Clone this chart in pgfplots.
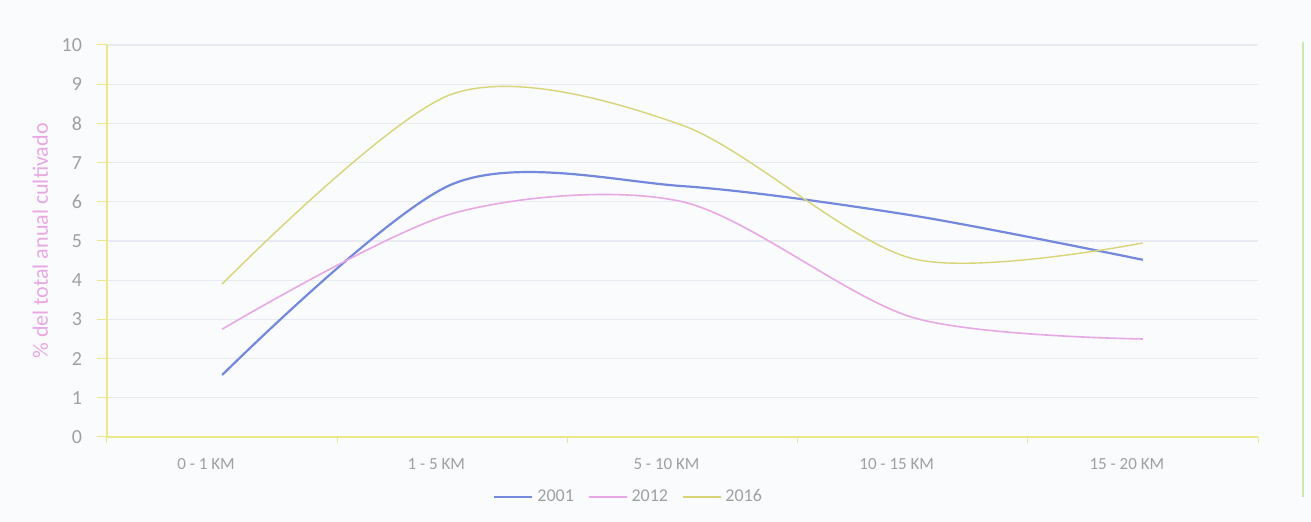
\documentclass[border=0pt]{standalone}
\usepackage{pgfplots}
\pgfplotsset{compat=1.18}
\usepackage{fontspec}
\setmainfont{Carlito}

\definecolor{c2001}{HTML}{7488DC}
\definecolor{c2012}{HTML}{E8A8E4}
\definecolor{c2016}{HTML}{D8D478}
\definecolor{axisyel}{HTML}{ECE88A}
\definecolor{gridc}{HTML}{E8ECF2}
\definecolor{txt}{HTML}{A0A0A0}
\definecolor{bg}{HTML}{F9FBFD}
\definecolor{frameg}{HTML}{CDE8AE}

\begin{document}
\begin{tikzpicture}[font=\fontsize{10}{12}\selectfont]
  % page = 1311x522 px at 0.5pt per px, axis origin at (107,437) px
  \path[use as bounding box, fill=bg] (-53.5pt,-42.5pt) rectangle (602pt,218.5pt);
  \draw[frameg, line width=0.6pt] (598pt,-30pt) -- (598pt,197.5pt);
  \begin{axis}[
      at={(0,0)}, anchor=south west,
      scale only axis,
      width=575.5pt, height=196pt,
      xmin=-0.5, xmax=4.5,
      ymin=0, ymax=10,
      axis lines*=left,
      axis line style={axisyel, line width=0.6pt},
      tick align=outside,
      tick style={axisyel, line width=0.5pt},
      major tick length=5pt,
      minor tick length=3pt,
      xtick={0,...,4},
      xticklabels={0 - 1 KM, 1 - 5 KM, 5 - 10 KM, 10 - 15 KM, 15 - 20 KM},
      major x tick style={draw=none},
      minor xtick={-0.5,0.5,1.5,2.5,3.5,4.5},
      ytick={0,...,10},
      ymajorgrids,
      grid style={gridc, line width=0.6pt},
      ticklabel style={txt},
      yticklabel style={xshift=-4pt},
      xticklabel style={yshift=-2pt, xshift=-8pt, font=\fontsize{8.5}{10}\selectfont},
      /pgf/number format/assume math mode=true,
      ylabel={\% del total anual cultivado},
      ylabel style={c2012, font=\fontsize{11}{13}\selectfont,
        at={(axis description cs:-0.058,0.5)}, anchor=center},
      legend style={at={(axis description cs:0.454,-0.153)}, anchor=center,
        draw=none, fill=none, text=txt, legend columns=-1,
        font=\fontsize{9}{11}\selectfont,
        /tikz/every even column/.append style={column sep=5pt}},
      legend image code/.code={\draw[#1] (0pt,0pt) -- (19pt,0pt);},
    ]
    \addplot[c2001, line width=1.1pt, smooth, tension=0.5] coordinates {
      (0,1.58) (1,6.45) (2,6.4) (3,5.65) (4,4.52)
    };
    \addlegendentry{2001}
    \addplot[c2012, line width=0.8pt, smooth, tension=0.5] coordinates {
      (0,2.75) (1,5.7) (2,6.0) (3,3.05) (4,2.5)
    };
    \addlegendentry{2012}
    \addplot[c2016, line width=0.7pt, smooth, tension=0.5] coordinates {
      (0,3.9) (1,8.75) (2,7.95) (3,4.55) (4,4.95)
    };
    \addlegendentry{2016}
  \end{axis}
\end{tikzpicture}
\end{document}
